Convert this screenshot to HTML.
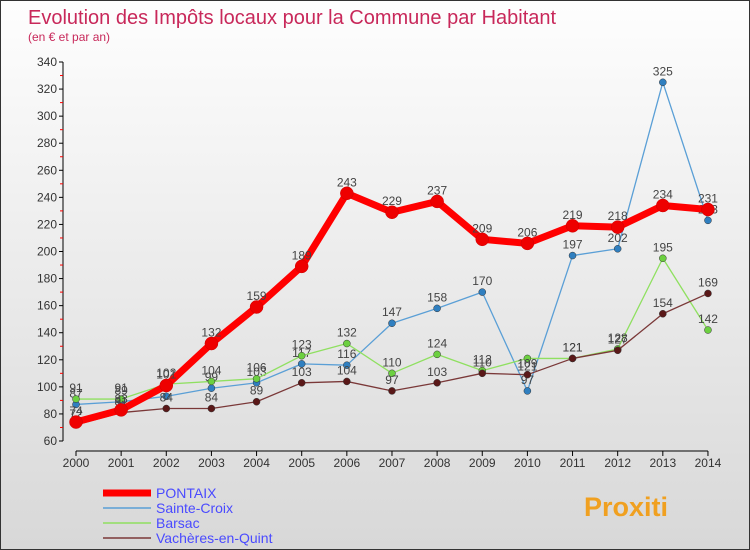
<!DOCTYPE html>
<html><head><meta charset="utf-8"><style>
body{margin:0}
#c{width:750px;height:550px;position:relative;background:linear-gradient(#fefefe,#d8d8d8);font-family:"Liberation Sans","DejaVu Sans",sans-serif;overflow:hidden;box-sizing:border-box;border:1px solid #333}
</style></head><body>
<div id="c">
<svg id="s" width="750" height="550"></svg>
</div>
<script>
const years=[2000,2001,2002,2003,2004,2005,2006,2007,2008,2009,2010,2011,2012,2013,2014];
const yTicks=[60,80,100,120,140,160,180,200,220,240,260,280,300,320,340];
const pontaix=[74,83,101,132,159,189,243,229,237,209,206,219,218,234,231];
const sainteCroix=[87,89,93,99,103,117,116,147,158,170,97,197,202,325,223];
const barsac=[91,91,102,104,106,123,132,110,124,112,121,121,128,195,142];
const vacheres=[72,81,84,84,89,103,104,97,103,110,109,121,127,154,169];
const seriesNames=["PONTAIX","Sainte-Croix","Barsac","Vachères-en-Quint"];
const NS="http://www.w3.org/2000/svg",svg=document.getElementById('s');
const X=i=>75+i*45.14, Y=v=>440-(v-60)*379/280;
function el(t,a,p){const e=document.createElementNS(NS,t);for(const k in a)e.setAttribute(k,a[k]);(p||svg).appendChild(e);return e;}
let t=el('text',{x:27,y:23,fill:'#c8285a','font-size':20});t.textContent='Evolution des Impôts locaux pour la Commune par Habitant';

t=el('text',{x:27,y:40,fill:'#c8285a','font-size':12});t.textContent='(en € et par an)';

const ax=el('g',{});
el('line',{x1:62,y1:Y(340),x2:62,y2:Y(60),stroke:'#000'},ax);
yTicks.forEach((v,i)=>{el('line',{x1:58,x2:62,y1:Y(v),y2:Y(v),stroke:'#000'},ax);
 if(i<yTicks.length-1)el('line',{x1:59,x2:62,y1:Y(v+10),y2:Y(v+10),stroke:'red'},ax);
 const tt=el('text',{x:56,y:Y(v)+4,'text-anchor':'end','font-size':12,fill:'#333'},ax);tt.textContent=v;});
const xa=el('g',{});
el('line',{x1:X(0),x2:X(14),y1:450,y2:450,stroke:'#000'},xa);
years.forEach((y,i)=>{el('line',{x1:X(i),x2:X(i),y1:450,y2:455,stroke:'#000'},xa);
 const tt=el('text',{x:X(i),y:466,'text-anchor':'middle','font-size':12,fill:'#333'},xa);tt.textContent=y;});
const defs=[[sainteCroix,'#5a9fd6',1.3,3.5,'#2f7fc0'],[barsac,'#8fe060',1.3,3.5,'#6cd040'],[vacheres,'#7a3838',1.3,3.5,'#5a1818'],[pontaix,'#ff0000',7,6.5,'#ee0000']];
const names=['series-sainte-croix','series-barsac','series-vacheres','series-pontaix'];
defs.forEach((d,k)=>{const g=el('g',{});
 el('polyline',{points:d[0].map((v,i)=>X(i)+','+Y(v)).join(' '),fill:'none',stroke:d[1],'stroke-width':d[2],'stroke-linejoin':'round'},g);
 d[0].forEach((v,i)=>{el('circle',{cx:X(i),cy:Y(v),r:d[3],fill:d[4],stroke:k==3?'#c00':'#333','stroke-width':0.5},g);
  const tt=el('text',{x:X(i),y:Y(v)-(k==1&&i==10?-12:7),'text-anchor':'middle','font-size':12,fill:'#444'},g);tt.textContent=v;});});
const lg=el('g',{});
const lc=['#ff0000','#5a9fd6','#8fe060','#7a3838'],lw=[7,1.5,1.5,1.5];
seriesNames.forEach((n,i)=>{const y=492+i*15;el('line',{x1:102,x2:150,y1:y,y2:y,stroke:lc[i],'stroke-width':lw[i]},lg);
 const tt=el('text',{x:155,y:y+5,'font-size':14,fill:'#4a4aff'},lg);tt.textContent=n;});
t=el('text',{x:583,y:515,'font-size':27,'font-weight':'bold',fill:'#f0a020'});t.textContent='Proxiti';

</script>
</body></html>
